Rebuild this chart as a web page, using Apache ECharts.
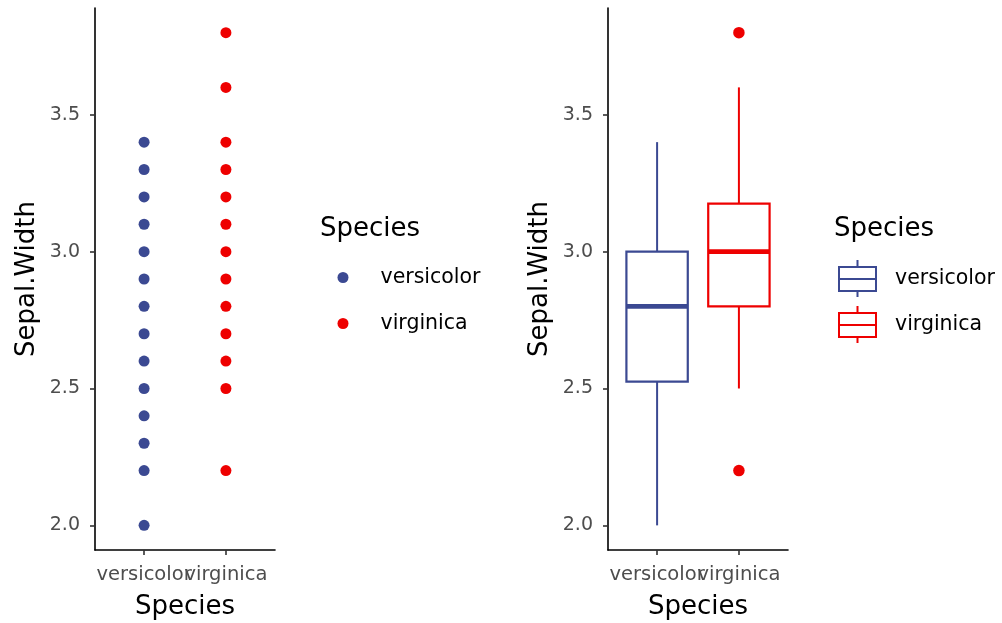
<!DOCTYPE html>
<html><head><meta charset="utf-8">
<script src="https://cdn.jsdelivr.net/npm/echarts@6/dist/echarts.min.js"></script>
<style>html,body{margin:0;padding:0;background:#fff}#c{width:1002px;height:623px}</style>
</head><body><div id="c"></div>
<script>
// ---- data ----
const categories = ['versicolor', 'virginica'];
const colors = ['#3B4992', '#EE0000'];
const versicolorPoints = [2.0, 2.2, 2.3, 2.4, 2.5, 2.6, 2.7, 2.8, 2.9, 3.0, 3.1, 3.2, 3.3, 3.4];
const virginicaPoints = [2.2, 2.5, 2.6, 2.7, 2.8, 2.9, 3.0, 3.1, 3.2, 3.3, 3.4, 3.6, 3.8];
// [lower whisker, Q1, median, Q3, upper whisker]
const versicolorBox = [2.0, 2.525, 2.8, 3.0, 3.4];
const virginicaBox = [2.5, 2.8, 3.0, 3.175, 3.6];
const versicolorOutliers = [];
const virginicaOutliers = [2.2, 3.8];
const yTicks = [2.0, 2.5, 3.0, 3.5];
const yMin = 1.91, yMax = 3.89;
// discrete x scale: categories at positions 1 and 2, expanded by 0.6 on each side
const xMin = 0.4, xMax = 2.6;

const FONT = 'DejaVu Sans';
const chart = echarts.init(document.getElementById('c'));

const PANEL = [{ left: 95 }, { left: 608 }];
const PW = 180, PTOP = 8, PH = 542;

// main value axes (carry the marks)
function xAxisDef(gi) {
  return {
    type: 'value', gridIndex: gi, min: xMin, max: xMax,
    axisLine: { show: true, onZero: false, lineStyle: { color: '#000', width: 1.6 } },
    axisTick: { show: false },
    axisLabel: { show: false },
    splitLine: { show: false },
    name: 'Species', nameLocation: 'middle', nameGap: 44,
    nameTextStyle: { fontSize: 26, color: '#000', fontFamily: FONT }
  };
}
// category axes that carry the discrete tick labels, laid over the same panel
function xCatDef(gi) {
  return {
    type: 'category', gridIndex: gi, data: categories, boundaryGap: true,
    axisLine: { show: false },
    axisTick: { show: true, alignWithLabel: true, length: 5, lineStyle: { color: '#333', width: 1.6 } },
    axisLabel: { interval: 0, color: '#4D4D4D', fontSize: 19.5, fontFamily: FONT, margin: 15, hideOverlap: false },
    splitLine: { show: false }
  };
}
function yAxisDef(gi) {
  return {
    type: 'value', gridIndex: gi, min: yMin, max: yMax,
    axisLine: { show: true, onZero: false, lineStyle: { color: '#000', width: 1.6 } },
    axisTick: { show: true, customValues: yTicks, length: 5, lineStyle: { color: '#333', width: 1.6 } },
    axisLabel: { customValues: yTicks, formatter: v => v.toFixed(1), color: '#4D4D4D', fontSize: 19, fontFamily: FONT, margin: 15 },
    splitLine: { show: false },
    name: 'Sepal.Width', nameLocation: 'middle', nameGap: 55,
    nameTextStyle: { fontSize: 26, color: '#000', fontFamily: FONT }
  };
}
function yHidden(gi) {
  return { type: 'value', gridIndex: gi, min: yMin, max: yMax, show: false };
}

function boxRender(params, api) {
  const x = api.value(0);
  const lo = api.value(1), q1 = api.value(2), med = api.value(3), q3 = api.value(4), hi = api.value(5);
  const half = 0.375;
  const color = api.visual('color');
  const pTL = api.coord([x - half, q3]);
  const pBR = api.coord([x + half, q1]);
  const pHi = api.coord([x, hi]), pQ3 = api.coord([x, q3]);
  const pQ1 = api.coord([x, q1]), pLo = api.coord([x, lo]);
  const mL = api.coord([x - half, med]), mR = api.coord([x + half, med]);
  return {
    type: 'group',
    children: [
      { type: 'line', shape: { x1: pHi[0], y1: pHi[1], x2: pQ3[0], y2: pQ3[1] }, style: { stroke: color, lineWidth: 2 } },
      { type: 'line', shape: { x1: pQ1[0], y1: pQ1[1], x2: pLo[0], y2: pLo[1] }, style: { stroke: color, lineWidth: 2 } },
      { type: 'rect', shape: { x: pTL[0], y: pTL[1], width: pBR[0] - pTL[0], height: pBR[1] - pTL[1] }, style: { fill: '#fff', stroke: color, lineWidth: 2.2 } },
      { type: 'line', shape: { x1: mL[0], y1: mL[1], x2: mR[0], y2: mR[1] }, style: { stroke: color, lineWidth: 4.8 } }
    ]
  };
}

const boxIcon = 'path://M18.5,0V7M0,7H37V31H0ZM0,19H37M18.5,31V37';

// overlay grid: category band centres land on value positions 1 and 2
const unit = PW / (xMax - xMin);
function catGrid(left) {
  const c1 = left + (1 - xMin) * unit, c2 = left + (2 - xMin) * unit;
  const w = 2 * (c2 - c1);
  return { left: c1 - w / 4, top: PTOP, width: w, height: PH, containLabel: false, outerBoundsMode: 'none' };
}

const option = {
  backgroundColor: '#fff',
  animation: false,
  title: [
    { text: 'Species', left: 320, top: 216, padding: 0, textStyle: { fontSize: 26, fontWeight: 'normal', color: '#000', fontFamily: FONT } },
    { text: 'Species', left: 834, top: 216, padding: 0, textStyle: { fontSize: 26, fontWeight: 'normal', color: '#000', fontFamily: FONT } }
  ],
  legend: [
    {
      orient: 'vertical', left: 337.5, top: 267, padding: 0, itemGap: 25, itemWidth: 11, itemHeight: 11,
      selectedMode: false,
      textStyle: { fontSize: 20.5, color: '#000', fontFamily: FONT, padding: [0, 0, 0, 27] },
      data: categories.map((c, i) => ({ name: c, icon: 'circle', itemStyle: { color: colors[i], borderWidth: 0 } }))
    },
    {
      orient: 'vertical', left: 838, top: 259, padding: 0, itemGap: 7, itemWidth: 37, itemHeight: 37,
      selectedMode: false,
      textStyle: { fontSize: 20.5, color: '#000', fontFamily: FONT, padding: [0, 0, 0, 14] },
      data: categories.map((c, i) => ({ name: c, icon: boxIcon, itemStyle: { color: '#fff', borderColor: colors[i], borderWidth: 2 } }))
    }
  ],
  grid: [
    { left: PANEL[0].left, top: PTOP, width: PW, height: PH, containLabel: false, outerBoundsMode: 'none' },
    { left: PANEL[1].left, top: PTOP, width: PW, height: PH, containLabel: false, outerBoundsMode: 'none' },
    catGrid(PANEL[0].left),
    catGrid(PANEL[1].left)
  ],
  xAxis: [xAxisDef(0), xAxisDef(1), xCatDef(2), xCatDef(3)],
  yAxis: [yAxisDef(0), yAxisDef(1), yHidden(2), yHidden(3)],
  series: [
    { type: 'scatter', name: 'versicolor', xAxisIndex: 0, yAxisIndex: 0, symbolSize: 11, itemStyle: { color: colors[0], opacity: 1 },
      data: versicolorPoints.map(v => [1, v]) },
    { type: 'scatter', name: 'virginica', xAxisIndex: 0, yAxisIndex: 0, symbolSize: 11, itemStyle: { color: colors[1], opacity: 1 },
      data: virginicaPoints.map(v => [2, v]) },
    { type: 'custom', name: 'versicolor', xAxisIndex: 1, yAxisIndex: 1, renderItem: boxRender, itemStyle: { color: colors[0] },
      encode: { x: 0, y: [1, 2, 3, 4, 5] }, data: [[1].concat(versicolorBox)] },
    { type: 'custom', name: 'virginica', xAxisIndex: 1, yAxisIndex: 1, renderItem: boxRender, itemStyle: { color: colors[1] },
      encode: { x: 0, y: [1, 2, 3, 4, 5] }, data: [[2].concat(virginicaBox)] },
    { type: 'scatter', name: 'versicolor', xAxisIndex: 1, yAxisIndex: 1, symbolSize: 11.5, itemStyle: { color: colors[0], opacity: 1 },
      data: versicolorOutliers.map(v => [1, v]) },
    { type: 'scatter', name: 'virginica', xAxisIndex: 1, yAxisIndex: 1, symbolSize: 11.5, itemStyle: { color: colors[1], opacity: 1 },
      data: virginicaOutliers.map(v => [2, v]) }
  ]
};
chart.setOption(option);
</script>
</body></html>
